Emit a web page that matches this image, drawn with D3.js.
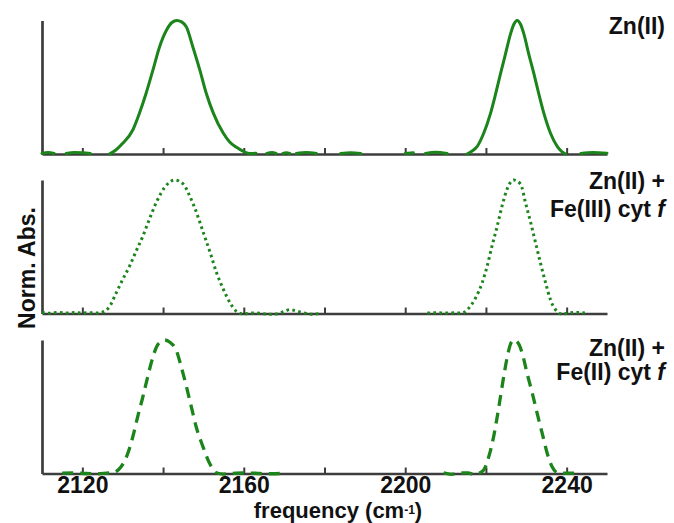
<!DOCTYPE html>
<html>
<head>
<meta charset="utf-8">
<script src="https://cdn.jsdelivr.net/npm/d3@7"></script>
<style>
  html, body { margin: 0; padding: 0; background: #fff; }
  svg { display: block; font-family: "Liberation Sans", Arial, sans-serif; }
  .lbl { font-weight: bold; font-size: 23px; fill: #111; }
</style>
</head>
<body>
<div id="chart"></div>
<script>
// x ticks (cm-1) and which ones get labels
const tickValues = [2120, 2140, 2160, 2180, 2200, 2220, 2240];
const tickLabels = [2120, 2160, 2200, 2240];

// panel labels
const labels1 = ["Zn(II)"];
const labels2 = ["Zn(II) +", "Fe(III) cyt f"];
const labels3 = ["Zn(II) +", "Fe(II) cyt f"];

// Zn(II) (solid) - null marks a gap in the trace
const znFreq = [2110, 2111.5, 2113, 2114.5, 2116, 2118, 2120, 2122, 2124,
  2126.7, 2128.3, 2130, 2132.5, 2134.2, 2135.8, 2137.5, 2139.1, 2140.8, 2142.2, 2143.4,
  2144.6, 2145.8, 2147.4, 2149.1, 2150.7, 2152.4, 2154.9, 2156.5, 2158.2, 2160, 2161.5, 2163,
  2164.3, 2165.7, 2167, 2168, 2169, 2169.7, 2170.5, 2171.4, 2172.2, 2173, 2175.5, 2178,
  2181, 2184, 2186.5, 2189, 2195, 2200, 2202, 2203.5, 2205, 2207.5, 2210.4, 2213,
  2215.3, 2216.5, 2217.8, 2219.45, 2221.1, 2222.4, 2223.6, 2224.85, 2226.1, 2226.9, 2227.75,
  2228.6, 2229.4, 2230.6, 2231.9, 2233.1, 2234.4, 2236, 2237.7, 2238.8, 2239.75,
  2241.5, 2243.5, 2246.5, 2250];
const znAbs = [0.004, 0.012, 0.004, null, 0.004, 0.012, 0.01, 0.004, null,
  0, 0.03, 0.08, 0.18, 0.31, 0.455, 0.63, 0.80, 0.925, 0.985, 1.0,
  0.99, 0.95, 0.80, 0.63, 0.455, 0.31, 0.157, 0.09, 0.05, 0.018, 0.003, 0.006,
  null, 0.005, 0.012, 0.005, null, 0.004, 0.01, 0.004, null, 0.004, 0.012, 0.004,
  null, 0.004, 0.01, 0.004, null, 0.004, 0.01, null, 0.004, 0.014, 0.004, null,
  0, 0.02, 0.055, 0.155, 0.30, 0.45, 0.60, 0.75, 0.90, 0.97, 1.0,
  0.97, 0.90, 0.75, 0.60, 0.45, 0.30, 0.155, 0.055, 0.018, 0,
  null, 0.004, 0.012, 0.006];

// Zn(II) + Fe(III) cyt f (dotted)
const fe3Freq = [2110, 2112, 2114, 2116, 2118, 2120, 2122, 2124, 2125,
  2126.7, 2128.4, 2130, 2131.7, 2133.3, 2135, 2136.6, 2138.3, 2140.4, 2142.9,
  2145, 2146.6, 2148.3, 2150, 2151.7, 2153.3, 2155, 2156.7, 2158.3,
  2160, 2162, 2164, 2166, 2168, 2170, 2171.5, 2173, 2175, 2177, 2179, 2180.5,
  2205.5, 2208, 2210, 2212, 2214.1,
  2215.3, 2217.4, 2219.05, 2220.3, 2221.5, 2222.8, 2224, 2225.25, 2226.9,
  2228.6, 2229.8, 2231.1, 2232.3, 2233.5, 2234.8, 2236, 2237.7, 2238.9,
  2240.5, 2242.5, 2244.5];
const fe3Abs = [0.008, 0.002, 0.008, 0.003, 0.007, 0.004, 0.006, 0.004, 0.01,
  0.05, 0.155, 0.255, 0.355, 0.466, 0.58, 0.706, 0.83, 0.945, 1.0,
  0.97, 0.88, 0.755, 0.604, 0.453, 0.302, 0.177, 0.075, 0.013,
  -0.005, 0.004, 0.002, -0.006, -0.004, 0.015, 0.03, 0.018, 0.004, -0.006, 0.002, null,
  0.003, 0.006, 0.003, 0.005, 0.004,
  0.026, 0.115, 0.228, 0.354, 0.505, 0.655, 0.806, 0.932, 1.0,
  0.969, 0.83, 0.68, 0.53, 0.38, 0.228, 0.102, 0.013, -0.004,
  0.004, 0.008, 0.004];

// Zn(II) + Fe(II) cyt f (dashed)
const fe2Freq = [2115, 2118, 2121, 2124, 2126, 2127.5,
  2129.6, 2131.25, 2132.5, 2133.7, 2135, 2136.2, 2137.5, 2138.4, 2139.55, 2140.4,
  2141.6, 2143.3, 2144.5, 2145.8, 2147, 2148.2, 2149.9, 2151.55, 2153.2,
  2155, 2158, 2161, 2164, 2167, 2170, 2171,
  2209.5, 2211.5, 2213.5, 2215.6, 2217, 2218.1,
  2219.45, 2220.7, 2221.9, 2222.8, 2223.6, 2224.4, 2225.3, 2226.1, 2226.9,
  2228.15, 2229, 2230.2, 2231.5, 2232.7, 2233.95, 2235.2, 2236.4, 2237.7,
  2240, 2243.5];
const fe2Abs = [0.002, 0.004, 0, -0.002, 0.003, 0.006,
  0.05, 0.15, 0.275, 0.425, 0.575, 0.725, 0.875, 0.95, 0.99, 1.0,
  0.985, 0.92, 0.80, 0.65, 0.50, 0.35, 0.20, 0.075, 0.006,
  -0.004, 0.002, 0.004, 0, -0.002, 0.002, null,
  0.004, -0.006, 0.004, 0.004, -0.006, 0,
  0.026, 0.125, 0.275, 0.425, 0.575, 0.725, 0.875, 0.97, 1.0,
  0.97, 0.90, 0.75, 0.60, 0.45, 0.30, 0.15, 0.05, 0.006,
  0.002, 0.004];

const width = 674, height = 523;
const green = "#1b841b";
const axisColor = "#3d3d3d";

const svg = d3.select("#chart").append("svg")
  .attr("width", width)
  .attr("height", height);

const x = d3.scaleLinear().domain([2110, 2250]).range([42, 607]);

const panels = [
  { freq: znFreq, abs: znAbs, top: 20.5, base: 154, dash: null, width: 3, labels: labels1, labelY: 34, gap: 0, showLabels: false },
  { freq: fe3Freq, abs: fe3Abs, top: 180, base: 313.5, dash: "2.6,3.4", width: 3, labels: labels2, labelY: 189, gap: 28, showLabels: false },
  { freq: fe2Freq, abs: fe2Abs, top: 340, base: 473.5, dash: "11,7", width: 3.3, labels: labels3, labelY: 356, gap: 24, showLabels: true },
];

panels.forEach(p => {
  const y = d3.scaleLinear().domain([0, 1]).range([p.base, p.top]);

  // x axis, ticks pointing up
  const xAxis = d3.axisBottom(x)
    .tickValues(tickValues)
    .tickSizeInner(-6)
    .tickSizeOuter(0)
    .tickPadding(3)
    .tickFormat(d => (p.showLabels && tickLabels.includes(d)) ? d : "");

  const xg = svg.append("g")
    .attr("transform", `translate(0,${p.base})`)
    .call(xAxis);
  xg.select(".domain").attr("stroke", axisColor).attr("stroke-width", 2.7);
  xg.selectAll(".tick line").attr("stroke", axisColor).attr("stroke-width", 2);
  xg.selectAll(".tick text")
    .attr("class", "lbl")
    .attr("fill", "#111");

  // y axis: bare line only
  const yg = svg.append("g")
    .attr("transform", `translate(${x.range()[0]},0)`)
    .call(d3.axisLeft(y).tickValues([]).tickSizeOuter(0));
  yg.select(".domain").attr("stroke", axisColor).attr("stroke-width", 2.7);

  const pts = p.freq.map((f, i) => [f, p.abs[i]]);
  const line = d3.line()
    .defined(d => d[1] !== null)
    .x(d => x(d[0]))
    .y(d => y(d[1]))
    .curve(d3.curveMonotoneX);

  svg.append("path")
    .attr("d", line(pts))
    .attr("fill", "none")
    .attr("stroke", green)
    .attr("stroke-width", p.width)
    .attr("stroke-linecap", p.dash ? "butt" : "round")
    .attr("stroke-linejoin", "round")
    .attr("stroke-dasharray", p.dash);

  // panel label, right aligned; "f" in italics
  p.labels.forEach((t, i) => {
    const txt = svg.append("text")
      .attr("class", "lbl")
      .attr("x", 665)
      .attr("y", p.labelY + i * p.gap)
      .attr("text-anchor", "end");
    if (t.endsWith(" f")) {
      txt.append("tspan").text(t.slice(0, -1));
      txt.append("tspan").attr("font-style", "italic").text("f");
    } else {
      txt.text(t);
    }
  });
});

// y title
svg.append("text")
  .attr("class", "lbl")
  .attr("transform", "translate(35,268) rotate(-90)")
  .attr("text-anchor", "middle")
  .text("Norm. Abs.");

// x title
const xt = svg.append("text")
  .attr("class", "lbl")
  .attr("x", 338)
  .attr("y", 518)
  .attr("font-size", "22px")
  .style("font-size", "22px")
  .attr("text-anchor", "middle");
xt.append("tspan").text("frequency (cm");
xt.append("tspan").style("font-size", "12px").attr("dy", -4).text("-1");
xt.append("tspan").attr("dy", 4).text(")");
</script>
</body>
</html>
